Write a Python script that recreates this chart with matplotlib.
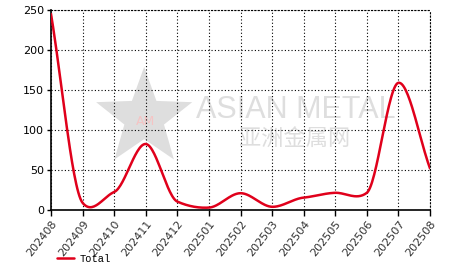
import numpy as np
import matplotlib
matplotlib.use("Agg")
import matplotlib.pyplot as plt
from matplotlib.patches import Polygon

months = ["202408", "202409", "202410", "202411", "202412", "202501", "202502",
          "202503", "202504", "202505", "202506", "202507", "202508"]
total = [245, 9, 22.5, 82.5, 10.5, 3, 21, 4, 15.5, 21.5, 21.5, 159, 52]

def cardinal(y, c=0.22, n=30):
    y = np.asarray(y, float)
    m = np.zeros_like(y)
    m[1:-1] = c * (y[2:] - y[:-2])
    m[0] = (y[1] - y[0])
    m[-1] = (y[-1] - y[-2])
    xs, ys = [], []
    t = np.linspace(0, 1, n, endpoint=False)
    h00 = 2*t**3 - 3*t**2 + 1
    h10 = t**3 - 2*t**2 + t
    h01 = -2*t**3 + 3*t**2
    h11 = t**3 - t**2
    for i in range(len(y) - 1):
        xs.append(i + t)
        ys.append(h00*y[i] + h10*m[i] + h01*y[i+1] + h11*m[i+1])
    xs.append([len(y) - 1]); ys.append([y[-1]])
    return np.concatenate(xs), np.concatenate(ys)

fig = plt.figure(figsize=(4.66, 2.72), dpi=100)
ax = fig.add_axes([51/466, 1 - 210/272, (430-51)/466, 200/272])

# watermark
wm_c = "#dedede"
cx, cy, R, r = 2.95, 115, 1.6, 0.66
pts = []
for k in range(10):
    ang = np.pi/2 + k*np.pi/5
    rad = R if k % 2 == 0 else r
    pts.append((cx + rad*np.cos(ang), cy + rad*np.sin(ang)*40))
ax.add_patch(Polygon(pts, closed=True, facecolor=wm_c, edgecolor="none", zorder=0))
ax.text(cx + 0.05, cy - 4, "AM", color="#f5c4c4", fontsize=9, ha="center", va="center",
        family="DejaVu Sans", zorder=0.5)
ax.text(4.6, 125, "ASIAN METAL", color=wm_c, fontsize=22, ha="left", va="center",
        family="Liberation Sans", zorder=0.5)
ax.text(7.7, 89, "亚洲金属网", color=wm_c, fontsize=16, ha="center", va="center",
        family=["Noto Sans CJK SC", "DejaVu Sans"], zorder=0.5)

xs, ys = cardinal(total)
ax.plot(xs, ys, color="#e0001b", lw=1.8, label="Total", zorder=3, solid_capstyle="round")

ax.set_xlim(0, len(months) - 1)
ax.set_ylim(0, 250)
ax.set_xticks(range(len(months)))
ax.set_xticklabels(months, rotation=52, ha="right", rotation_mode="anchor",
                   fontsize=8, color="#333333", family="DejaVu Sans")
ax.set_yticks([0, 50, 100, 150, 200, 250])
ax.tick_params(axis="y", labelsize=8, length=3, width=1, pad=2)
ax.tick_params(axis="x", length=4, width=1, pad=2)
ax.grid(True, color="black", linestyle=(0, (1, 2)), lw=0.8)
ax.set_axisbelow(True)
for s in ["top", "right"]:
    ax.spines[s].set_linestyle((0, (1, 2)))
    ax.spines[s].set_linewidth(0.8)
for s in ["left", "bottom"]:
    ax.spines[s].set_linewidth(1.2)

leg = fig.legend(loc="upper left", bbox_to_anchor=(57/466, 1 - 254/272), frameon=False,
                 prop={"family": "Liberation Mono", "size": 7.5}, handlelength=1.6,
                 handletextpad=0.6, borderaxespad=0, borderpad=0)

fig.savefig("out.png", dpi=100)
